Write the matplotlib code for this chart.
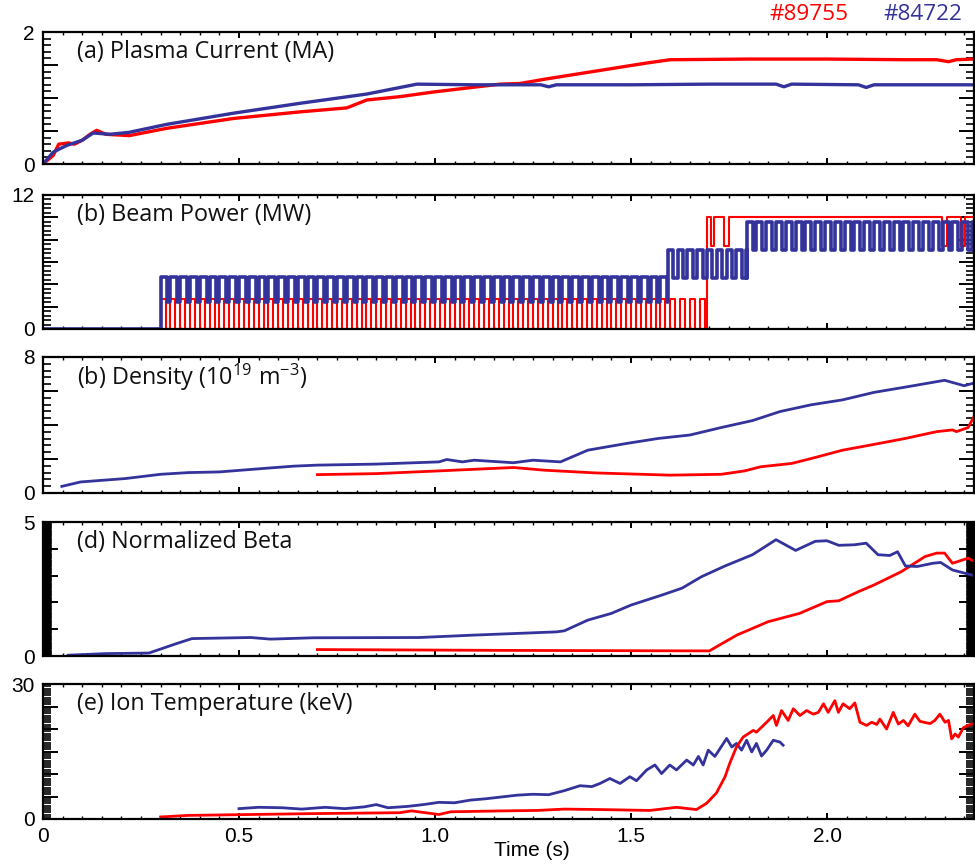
import numpy as np
import matplotlib
matplotlib.use("Agg")
import matplotlib.pyplot as plt
from matplotlib.ticker import MultipleLocator, FuncFormatter

plt.rcParams['font.family'] = ['Liberation Sans', 'DejaVu Sans']
plt.rcParams['mathtext.fontset'] = 'custom'
plt.rcParams['mathtext.rm'] = 'Open Sans'

RED = '#ff0000'
BLUE = '#33339b'
LABEL_FONT = ['Open Sans', 'DejaVu Sans']

shots = ['#89755', '#84722']

# ---------------- (a) plasma current (MA)
ip_red_t = [0.0, 0.026, 0.04, 0.065, 0.08, 0.10, 0.12, 0.137, 0.16, 0.19, 0.22, 0.315, 0.486,
            0.656, 0.775, 0.826, 0.91, 0.995, 1.08, 1.166, 1.217, 1.285, 1.455, 1.54, 1.60,
            1.80, 2.00, 2.20, 2.28, 2.31, 2.33, 2.375]
ip_red = [0.0, 0.13, 0.30, 0.32, 0.30, 0.36, 0.45, 0.51, 0.45, 0.44, 0.43, 0.54, 0.69,
          0.79, 0.85, 0.97, 1.02, 1.09, 1.15, 1.21, 1.22, 1.29, 1.45, 1.53, 1.58,
          1.59, 1.59, 1.58, 1.58, 1.55, 1.58, 1.59]
ip_blue_t = [0.0, 0.026, 0.06, 0.10, 0.128, 0.17, 0.22, 0.315, 0.486, 0.656, 0.826, 0.954,
             1.10, 1.27, 1.29, 1.31, 1.50, 1.70, 1.87, 1.89, 1.91, 2.08, 2.10, 2.12, 2.375]
ip_blue = [0.0, 0.18, 0.28, 0.36, 0.47, 0.45, 0.48, 0.60, 0.77, 0.92, 1.06, 1.21,
           1.20, 1.20, 1.17, 1.20, 1.20, 1.21, 1.21, 1.17, 1.21, 1.20, 1.16, 1.20, 1.20]

# ---------------- (b) beam power (MW): modulated segments
mod_period = 0.025
beam_blue_t0 = [0.30, 1.594, 1.795]
beam_blue_t1 = [1.594, 1.795, 2.375]
beam_blue_hi = [4.7, 7.1, 9.6]
beam_blue_lo = [2.4, 4.6, 7.1]
beam_blue_lowfrac = [0.3, 0.45, 0.4]

beam_red_t0 = [0.30]
beam_red_t1 = [1.693]
beam_red_hi = [2.7]
beam_red_lo = [0.0]
beam_red_lowfrac = [0.5]
beam_red_flat = 10.0
beam_red_dips = [(1.703, 1.712), (1.738, 1.750), (2.293, 2.305), (2.343, 2.352)]
beam_red_dip_level = 7.4

# ---------------- (c) density (1e19 m^-3)
ne_blue_t = [0.048, 0.096, 0.21, 0.30, 0.37, 0.45, 0.56, 0.64, 0.70, 0.85, 1.01, 1.03, 1.07,
             1.10, 1.20, 1.25, 1.32, 1.39, 1.49, 1.57, 1.65, 1.73, 1.81, 1.88, 1.96, 2.04,
             2.12, 2.20, 2.30, 2.35, 2.375]
ne_blue = [0.39, 0.65, 0.85, 1.10, 1.20, 1.24, 1.44, 1.58, 1.64, 1.70, 1.83, 1.97, 1.83,
           1.93, 1.78, 1.93, 1.83, 2.52, 2.92, 3.21, 3.41, 3.85, 4.26, 4.79, 5.19, 5.48,
           5.92, 6.23, 6.63, 6.31, 6.47]
ne_red_t = [0.70, 0.85, 1.01, 1.20, 1.28, 1.41, 1.60, 1.73, 1.79, 1.83, 1.91, 1.96, 2.04,
            2.12, 2.20, 2.28, 2.32, 2.33, 2.36, 2.375]
ne_red = [1.08, 1.14, 1.30, 1.50, 1.34, 1.18, 1.05, 1.10, 1.30, 1.54, 1.74, 2.03, 2.52,
          2.86, 3.21, 3.61, 3.71, 3.61, 3.85, 4.5]

# ---------------- (d) normalized beta
bn_blue_t = [0.064, 0.16, 0.27, 0.34, 0.38, 0.53, 0.58, 0.69, 0.96, 1.10, 1.31, 1.33, 1.39,
             1.45, 1.50, 1.58, 1.63, 1.68, 1.74, 1.81, 1.87, 1.92, 1.97, 2.00, 2.03, 2.07,
             2.10, 2.13, 2.16, 2.18, 2.20, 2.23, 2.27, 2.29, 2.32, 2.375]
bn_blue = [0.03, 0.09, 0.11, 0.46, 0.65, 0.69, 0.63, 0.68, 0.69, 0.78, 0.90, 0.94, 1.34,
           1.59, 1.90, 2.28, 2.53, 2.96, 3.36, 3.78, 4.34, 3.94, 4.28, 4.30, 4.13, 4.15,
           4.21, 3.78, 3.75, 3.89, 3.36, 3.34, 3.46, 3.49, 3.21, 3.0]
bn_red_t = [0.70, 1.17, 1.70, 1.72, 1.77, 1.85, 1.93, 2.00, 2.03, 2.08, 2.12, 2.19, 2.25,
            2.28, 2.30, 2.32, 2.36, 2.375]
bn_red = [0.24, 0.21, 0.19, 0.36, 0.78, 1.28, 1.59, 2.03, 2.06, 2.40, 2.65, 3.15, 3.71,
          3.84, 3.84, 3.46, 3.65, 3.53]

# ---------------- (e) ion temperature (keV)
ti_blue_t = [0.50, 0.55, 0.61, 0.66, 0.72, 0.77, 0.82, 0.85, 0.88, 0.93, 0.97, 1.01, 1.05,
             1.09, 1.13, 1.17, 1.21, 1.25, 1.29, 1.33, 1.37, 1.40, 1.421, 1.446, 1.472,
             1.497, 1.514, 1.540, 1.561, 1.578, 1.599, 1.616, 1.642, 1.659, 1.672, 1.684,
             1.697, 1.714, 1.744, 1.757, 1.769, 1.782, 1.795, 1.808, 1.820, 1.833, 1.846,
             1.863, 1.880, 1.888]
ti_blue = [2.3, 2.6, 2.5, 2.2, 2.6, 2.3, 2.7, 3.2, 2.5, 2.8, 3.2, 3.7, 3.6,
           4.2, 4.5, 4.9, 5.3, 5.5, 5.4, 6.3, 7.4, 7.2, 7.9, 9.0, 7.9,
           9.4, 8.5, 10.9, 12.0, 10.1, 12.0, 10.9, 13.1, 12.0, 13.9, 12.0,
           15.3, 13.9, 17.9, 16.0, 16.8, 15.3, 17.5, 14.9, 16.8, 14.0, 15.3,
           17.5, 17.1, 16.4]
ti_red_t = [0.30, 0.37, 0.53, 0.69, 0.91, 0.94, 1.01, 1.04, 1.17, 1.26, 1.33, 1.421, 1.548,
            1.616, 1.667, 1.693, 1.718, 1.740, 1.752, 1.769, 1.786, 1.812, 1.820, 1.846,
            1.863, 1.871, 1.884, 1.901, 1.914, 1.931, 1.948, 1.965, 1.978, 1.991, 2.003,
            2.020, 2.029, 2.041, 2.058, 2.071, 2.084, 2.101, 2.114, 2.127, 2.135, 2.152,
            2.169, 2.182, 2.195, 2.207, 2.224, 2.237, 2.263, 2.275, 2.288, 2.301, 2.310,
            2.318, 2.327, 2.335, 2.348, 2.365, 2.378]
ti_red = [0.45, 0.8, 1.0, 1.2, 1.4, 1.8, 1.0, 1.6, 1.8, 1.9, 2.2, 2.1, 1.9,
          2.6, 2.1, 3.5, 5.8, 9.4, 12.4, 16.0, 18.2, 19.7, 19.3, 21.5,
          23.0, 20.8, 24.1, 21.9, 24.5, 23.0, 24.1, 23.3, 23.7, 25.6, 23.7,
          26.3, 23.7, 25.6, 24.5, 25.8, 21.5, 20.8, 21.5, 21.0, 22.2, 20.0,
          23.7, 21.1, 21.9, 20.7, 23.3, 21.7, 21.2, 21.9, 23.3, 21.5, 21.9,
          17.8, 18.9, 18.2, 20.3, 21.0, 21.2]

panel_titles = ['(a) Plasma Current (MA)', '(b) Beam Power (MW)',
                r'(b) Density (10$^{\mathregular{19}}$ m$^{\mathregular{-3}}$)',
                '(d) Normalized Beta', '(e) Ion Temperature (keV)']
y_max = [2, 12, 8, 5, 30]
y_major = [0.5, 2, 2, 1, 5]
y_minor = [0.1, 0.4, 0.4, 0.02, 0.5]
x_ticks = [0, 0.5, 1.0, 1.5, 2.0]
x_ticklabels = ['0', '0.5', '1.0', '1.5', '2.0']
x_max = 2.375


def pulse_train(t0, t1, hi, lo, period, low_frac):
    """Step waveform: level hi, dropping to lo for the last low_frac of each period."""
    ts, ys = [], []
    for s in np.arange(t0, t1 - 1e-9, period):
        m = min(s + period * (1 - low_frac), t1)
        ts += [s, m]
        ys += [hi, lo]
    return ts, ys


def beam_wave(t0s, t1s, his, los, fracs, end_level=None, dips=(), dip_level=None):
    ts, ys = [0.0], [0.0]
    for a, b, h, l, f in zip(t0s, t1s, his, los, fracs):
        t, y = pulse_train(a, b, h, l, mod_period, f)
        ts += t
        ys += y
    if end_level is not None:
        ts.append(t1s[-1])
        ys.append(end_level)
        for a, b in dips:
            ts += [a, b]
            ys += [dip_level, end_level]
    ts.append(x_max)
    ys.append(ys[-1])
    return ts, ys


W, H = 975, 867
fig = plt.figure(figsize=(W / 100, H / 100), dpi=100)

# pixel extents (top, bottom) of each panel
panel_px = [(32, 164), (195, 329), (357, 493), (522, 656), (684, 819)]
left_px, right_px = 43, 974

axes = []
for i, (top, bot) in enumerate(panel_px):
    ax = fig.add_axes([left_px / W, 1 - bot / H, (right_px - left_px) / W, (bot - top) / H])
    axes.append(ax)
    ax.set_xlim(0, x_max)
    ax.set_ylim(0, y_max[i])
    for sp in ax.spines.values():
        sp.set_linewidth(1.6)
    ax.yaxis.set_major_locator(MultipleLocator(y_major[i]))
    ax.yaxis.set_minor_locator(MultipleLocator(y_minor[i]))
    ymx = y_max[i]
    ax.yaxis.set_major_formatter(FuncFormatter(
        lambda v, p, ymx=ymx: ('%g' % v) if (abs(v) < 1e-9 or abs(v - ymx) < 1e-9) else ''))
    ax.xaxis.set_major_locator(MultipleLocator(0.5))
    ax.xaxis.set_minor_locator(MultipleLocator(0.05))
    ax.tick_params(axis='y', which='major', direction='in', left=True, right=True,
                   length=11, width=1.4, labelsize=15, pad=6)
    ax.tick_params(axis='y', which='minor', direction='in', left=True, right=True,
                   length=6, width=1.2 if i != 3 else 1.0)
    ax.tick_params(axis='x', which='major', direction='in', top=True, bottom=True,
                   length=4, width=1.4)
    ax.tick_params(axis='x', which='minor', direction='in', top=True, bottom=True,
                   length=2, width=1.0)
    if i < 4:
        ax.set_xticklabels([])
    else:
        ax.set_xticks(x_ticks)
        ax.set_xticklabels(x_ticklabels, fontsize=15)
        ax.tick_params(axis='x', which='major', pad=6)
    ax.text(0.0365, 0.85, panel_titles[i], transform=ax.transAxes, fontsize=16.8,
            family=LABEL_FONT, color='#111111', va='center', ha='left')

lw = 2.0
a, b, c, d, e = axes
a.plot(ip_red_t, ip_red, color=RED, lw=2.4)
a.plot(ip_blue_t, ip_blue, color=BLUE, lw=2.4)

rt, ry = beam_wave(beam_red_t0, beam_red_t1, beam_red_hi, beam_red_lo, beam_red_lowfrac,
                   end_level=beam_red_flat, dips=beam_red_dips, dip_level=beam_red_dip_level)
bt, by = beam_wave(beam_blue_t0, beam_blue_t1, beam_blue_hi, beam_blue_lo, beam_blue_lowfrac)
b.step(rt, ry, where='post', color=RED, lw=1.5)
b.step(bt, by, where='post', color=BLUE, lw=2.6)

c.plot(ne_red_t, ne_red, color=RED, lw=lw)
c.plot(ne_blue_t, ne_blue, color=BLUE, lw=lw)

d.plot(bn_red_t, bn_red, color=RED, lw=lw)
d.plot(bn_blue_t, bn_blue, color=BLUE, lw=lw)

e.plot(ti_blue_t, ti_blue, color=BLUE, lw=lw)
e.plot(ti_red_t, ti_red, color=RED, lw=lw)

fig.text(532 / W, 1 - 851 / H, 'Time (s)', fontsize=15, ha='center', va='center')
fig.text(809 / W, 1 - 14 / H, shots[0], color=RED, fontsize=16.2, family=LABEL_FONT,
         ha='center', va='center')
fig.text(923 / W, 1 - 14 / H, shots[1], color=BLUE, fontsize=16.2, family=LABEL_FONT,
         ha='center', va='center')

fig.savefig('out.png', dpi=100)
